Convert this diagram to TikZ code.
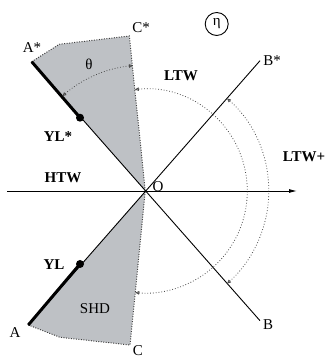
\documentclass[tikz,border=0pt]{standalone}
\usepackage{fontspec}
\setmainfont{Liberation Serif}
\usetikzlibrary{arrows.meta}
\definecolor{shdgray}{RGB}{190,193,197}
\tikzset{
  lbl/.style={inner sep=0pt, font=\fontsize{15}{17}\selectfont},
  boldlbl/.style={inner sep=0pt, font=\fontsize{15}{17}\selectfont\bfseries},
  axisline/.style={line width=0.9pt, -{Latex[length=8pt,width=4pt]}},
  thinline/.style={line width=0.9pt},
  yieldline/.style={line width=3pt},
  shdedge/.style={line width=1pt, black!75, dash pattern=on 1pt off 1.5pt},
  dotarc/.style={line width=0.8pt, black!70, dash pattern=on 0.8pt off 2pt, {Triangle[open,length=4pt,width=3.5pt]}-{Triangle[open,length=4pt,width=3.5pt]}},
  ylpoint/.style={circle, fill=black, inner sep=0pt, minimum size=8pt}
}
\begin{document}
\begin{tikzpicture}[x=1pt,y=1pt]
\useasboundingbox (0,0) rectangle (324,358);
\coordinate (O) at (145.3,167);
\coordinate (As) at (31.7,296.3);
\coordinate (Bs) at (260,297.3);
\coordinate (Cs) at (129.3,322);
\coordinate (A) at (28.3,33);
\coordinate (B) at (260,37.3);
\coordinate (C) at (130,13);
\coordinate (topcorner) at (59.3,313.7);
\coordinate (botcorner) at (60,20.7);
\coordinate (axisstart) at (7.3,167);
\coordinate (axisend) at (297,167);
\fill[shdgray] (O) -- (As) -- (topcorner) -- (Cs) -- cycle;
\fill[shdgray] (O) -- (A) -- (botcorner) -- (C) -- cycle;
\draw[shdedge] (As) -- (topcorner) -- (Cs) -- (O);
\draw[shdedge] (A) -- (botcorner) -- (C) -- (O);
\draw[axisline] (axisstart) -- (axisend);
\draw[thinline] (As) -- (B);
\draw[thinline] (A) -- (Bs);
\node[ylpoint] (ylstar) at (80,240.3) {};
\node[ylpoint] (yl) at (80,94) {};
\draw[yieldline] (As) -- (ylstar.center);
\draw[yieldline] (A) -- (yl.center);
\draw[dotarc] ([shift={(95.6:126)}]O) arc[start angle=95.6, end angle=131.2, radius=126];
\draw[dotarc] ([shift={(95.9:102)}]O) arc[start angle=95.9, end angle=-95.7, radius=102];
\draw[dotarc] ([shift={(48.6:123.5)}]O) arc[start angle=48.6, end angle=-48.6, radius=123.5];
\node[lbl] (lAs) at (32,310) {A*};
\node[lbl] (lCs) at (141,330) {C*};
\node[lbl] (lBs) at (272,297) {B*};
\node[lbl] (ltheta) at (89,294) {θ};
\node[boldlbl] (lLTW) at (181,282) {LTW};
\node[boldlbl] (lYLs) at (58,221) {YL*};
\node[boldlbl] (lHTW) at (63,180) {HTW};
\node[boldlbl] (lLTWp) at (304,201) {LTW+};
\node[lbl] (lO) at (158,171) {O};
\node[boldlbl] (lYL) at (54,93) {YL};
\node[lbl] (lSHD) at (95,49) {SHD};
\node[lbl] (lA) at (15,25) {A};
\node[lbl] (lB) at (268,33) {B};
\node[lbl] (lC) at (138,7.5) {C};
\node[lbl, draw, circle, line width=0.9pt, minimum size=23pt] (eta) at (216.7,334) {η};
\end{tikzpicture}
\end{document}
